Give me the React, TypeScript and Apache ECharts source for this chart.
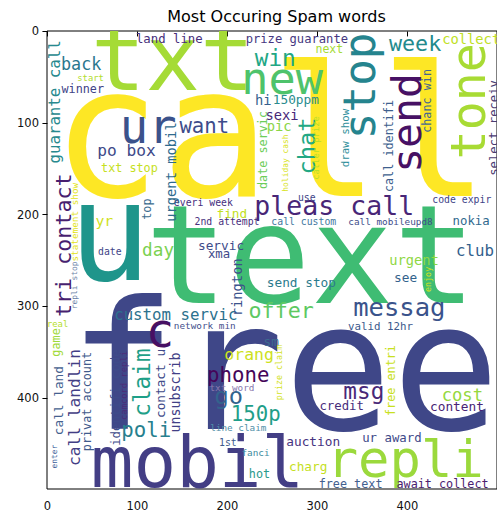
import React, { useEffect, useRef } from "react";
import * as echarts from "echarts";

// Word cloud content: words, their centre position in image pixels (0-500), font size in image pixels, orientation
const words = [
  "call", "text", "free", "u", "txt", "mobil", "repli", "new", "stop", "send",
  "tone", "ur", "pleas call", "messag", "offer", "custom servic", "c", "claim", "phone", "orang",
  "go", "150p", "poli", "msg", "cost", "credit", "content", "auction", "ur award", "charg",
  "free text", "await collect", "hot", "fanci", "1st", "line claim", "txt word", "sm", "valid 12hr", "see",
  "urgent", "send stop", "club", "nokia", "code expir", "call mobileupd8", "call custom", "use", "enjoy", "rington",
  "servic", "xma", "network min", "day", "date", "yr", "top", "everi week", "find", "2nd attempt",
  "urgent mobil", "po box", "txt stop", "want", "back", "start", "winner", "guarante call", "land line", "prize guarante",
  "next", "week", "collect", "win", "hi", "150ppm", "sexi", "pic", "date servic", "chat",
  "caller prize", "holiday cash", "draw show", "call identifi", "chanc win", "select receiv", "tri contact", "statement show", "repli stop", "real",
  "game", "call land", "enter", "call landlin", "privat account", "identifi code", "camcord repli", "contact u", "unsubscrib", "free entri",
  "prize claim",
];

const wordX = [
  247.6, 292.5, 262.9, 69.3, 139.3, 166.7, 397.5, 260.7, 346.5, 399.1,
  467.5, 112.0, 318.7, 391.0, 259.7, 142.6, 125.1, 105.4, 212.0, 224.1,
  201.5, 231.4, 109.8, 351.5, 461.0, 326.9, 455.0, 295.3, 382.7, 289.7,
  336.8, 439.0, 235.6, 231.2, 200.5, 212.0, 205.0, 248.7, 370.1, 398.0,
  407.3, 282.1, 475.1, 470.8, 460.4, 381.1, 284.8, 288.1, 422.6, 210.6,
  192.9, 190.7, 174.8, 122.9, 69.3, 63.2, 110.8, 173.2, 204.9, 199.5,
  137.0, 87.9, 91.1, 174.3, 37.5, 47.9, 39.2, 7.4, 135.4, 277.1,
  313.2, 408.5, 470.8, 253.1, 239.9, 276.0, 260.7, 257.4, 239.9, 288.8,
  297.9, 264.0, 330.7, 380.0, 421.5, 496.0, 18.3, 29.9, 29.9, 11.3,
  9.1, 12.4, 8.0, 30.2, 43.8, 76.6, 85.0, 125.6, 141.8, 382.2,
  257.4,
];

const wordY = [
  110.8, 243.9, 366.8, 218.7, 29.0, 470.8, 467.2, 51.8, 59.4, 99.9,
  76.2, 103.6, 190.4, 301.2, 304.9, 309.4, 326.8, 383.3, 375.3, 352.8,
  398.5, 417.9, 435.5, 392.0, 396.4, 409.2, 408.9, 447.2, 444.2, 474.6,
  493.5, 493.5, 482.6, 459.5, 448.4, 432.2, 388.4, 338.9, 322.2, 268.9,
  250.0, 274.4, 239.4, 206.8, 183.6, 207.9, 207.7, 181.4, 270.7, 279.3,
  233.9, 242.9, 320.5, 238.3, 240.5, 206.9, 194.0, 186.9, 198.9, 207.7,
  153.5, 129.8, 148.9, 102.8, 35.4, 50.5, 62.5, 76.9, 7.7, 7.7,
  18.9, 12.8, 8.2, 28.8, 74.9, 74.2, 91.3, 103.4, 129.4, 125.0,
  127.2, 143.7, 116.3, 125.0, 75.8, 105.3, 233.4, 208.2, 277.2, 319.7,
  339.5, 403.0, 464.2, 410.6, 404.0, 399.7, 386.5, 384.3, 394.2, 381.1,
  372.3,
];

const wordSize = [
  202, 153, 199, 153, 100.6, 78.8, 58, 50.3, 49.2, 46,
  53.6, 52.5, 29.5, 28.4, 24.1, 17.5, 52.5, 25.2, 23, 18.3,
  26.3, 23, 23, 25.2, 19.1, 13.7, 14.2, 14.2, 13.7, 14.2,
  13.1, 13.1, 13.1, 10.4, 10.9, 10.4, 10.4, 14.2, 12, 14.2,
  15.3, 14.2, 17.5, 13.7, 10.9, 10.4, 10.9, 10.9, 9.3, 15.3,
  14.2, 13.7, 10.4, 19.7, 10.9, 16.4, 13.1, 10.9, 14.2, 10.9,
  15.3, 18, 13.1, 23, 18.6, 9.8, 13.1, 17.5, 13.7, 13.5,
  12.8, 24.1, 15.3, 25.2, 15.3, 14.2, 15.3, 15.3, 13.1, 26.3,
  9.8, 8.8, 12, 13.1, 13.1, 13.6, 24.1, 10.4, 8.8, 9.8,
  13.1, 14.2, 8.8, 18, 13.1, 13.7, 9.8, 14.2, 14.8, 13.1,
  9.3,
];

const wordVertical = [
  0, 0, 0, 0, 0, 0, 0, 0, 1, 1,
  1, 0, 0, 0, 0, 0, 0, 1, 0, 0,
  0, 0, 0, 0, 0, 0, 0, 0, 0, 0,
  0, 0, 0, 0, 0, 0, 0, 0, 0, 0,
  0, 0, 0, 0, 0, 0, 0, 0, 1, 1,
  0, 0, 0, 0, 0, 0, 1, 0, 0, 0,
  1, 0, 0, 0, 0, 0, 0, 1, 0, 0,
  0, 0, 0, 0, 0, 0, 0, 0, 1, 1,
  1, 1, 1, 1, 1, 1, 1, 1, 1, 0,
  1, 1, 1, 1, 1, 1, 1, 1, 1, 1,
  1,
];

const tickValues = [0, 100, 200, 300, 400];

// style: viridis colours per word
const wordColors = [
  "#fde725", "#3fbc73", "#3f4788", "#1f958b", "#a5db36", "#433e85", "#9bd93c", "#4ec36b", "#25848e", "#471164",
  "#a8db34", "#3b528b", "#482677", "#3a538b", "#5ec962", "#2c728e", "#471063", "#1fa088", "#450559", "#cde11d",
  "#33638d", "#1f9e89", "#27808e", "#482878", "#95d840", "#472d7b", "#482475", "#46337f", "#3e4989", "#c5e01f",
  "#42608f", "#4b2170", "#2a9a8c", "#3d8ca0", "#3d5a8c", "#4f8fa8", "#8878ad", "#3b6a8f", "#3c5a8c", "#33638d",
  "#8fd744", "#2c7b8e", "#345f8d", "#30698e", "#414487", "#3e4c8a", "#4378a0", "#414487", "#d2e21b", "#3b528b",
  "#3e4c8a", "#3e4a89", "#46508c", "#7ad151", "#414487", "#cfe11c", "#3b6c8e", "#46307e", "#c2df23", "#472f7d",
  "#2f6b8e", "#3e4a89", "#c5e021", "#3e4c8a", "#2a778e", "#b2dd2d", "#404387", "#27898e", "#472e7c", "#453781",
  "#a5db36", "#238a8d", "#c0df25", "#22a785", "#355f8d", "#2a8c8e", "#472878", "#8ad547", "#6ccd5a", "#22a884",
  "#b8de29", "#d8e219", "#2f8f9b", "#3e5f8e", "#426690", "#4a3c72", "#481f70", "#e2e418", "#6b83a8", "#b5de2b",
  "#9fda3a", "#44618f", "#40619a", "#433e85", "#3f5a8c", "#3e4c8a", "#4d2b79", "#3e4a89", "#424086", "#c8e020",
  "#d2e21b",
];

const GRID = { left: 47, top: 31, width: 459, height: 459 };

export default function App() {
  const ref = useRef<HTMLDivElement>(null);

  useEffect(() => {
    if (!ref.current) return;
    const chart = echarts.init(ref.current, undefined, { renderer: "svg" });

    const axisCommon = {
      type: "value" as const,
      min: -0.5,
      max: 499.5,
      splitLine: { show: false },
      axisLine: { show: false },
      axisTick: {
        show: true,
        length: 5,
        customValues: tickValues,
        lineStyle: { color: "#000", width: 1 },
      },
    };
    const labelCommon = {
      customValues: tickValues,
      fontSize: 11.5,
      color: "#111",
      fontFamily: "DejaVu Sans",
    };

    chart.setOption({
      animation: false,
      backgroundColor: "#ffffff",
      grid: {
        ...GRID,
        show: true,
        borderColor: "#000",
        borderWidth: 1,
        backgroundColor: "#ffffff",
      },
      xAxis: { ...axisCommon, position: "bottom", axisLabel: { ...labelCommon, margin: 11 } },
      yAxis: { ...axisCommon, inverse: true, position: "left", axisLabel: { ...labelCommon, margin: 8 } },
      graphic: [
        {
          type: "text",
          x: GRID.left + GRID.width / 2,
          y: 16.5,
          style: {
            text: "Most Occuring Spam words",
            fontSize: 16,
            fontFamily: "DejaVu Sans",
            fill: "#000",
            align: "center",
            verticalAlign: "middle",
          },
        },
      ],
      series: [
        {
          type: "custom",
          clip: true,
          silent: true,
          data: wordX.map((x, i) => [x, wordY[i]]),
          renderItem: (params: any, api: any) => {
            const i = params.dataIndex;
            const p = api.coord([api.value(0), api.value(1)]);
            const s = api.size([wordSize[i], wordSize[i]]);
            const fs = Math.abs(s[0]);
            return {
              type: "text",
              x: p[0],
              y: p[1],
              rotation: wordVertical[i] ? Math.PI / 2 : 0,
              style: {
                text: words[i],
                fontSize: fs,
                fontFamily: "DejaVu Sans Mono",
                fill: wordColors[i],
                align: "center",
                verticalAlign: "middle",
              },
            };
          },
        },
      ],
    });

    return () => chart.dispose();
  }, []);

  return (
    <div
      ref={ref}
      style={{ position: "fixed", left: 0, top: 0, width: 497, height: 512 }}
    />
  );
}
